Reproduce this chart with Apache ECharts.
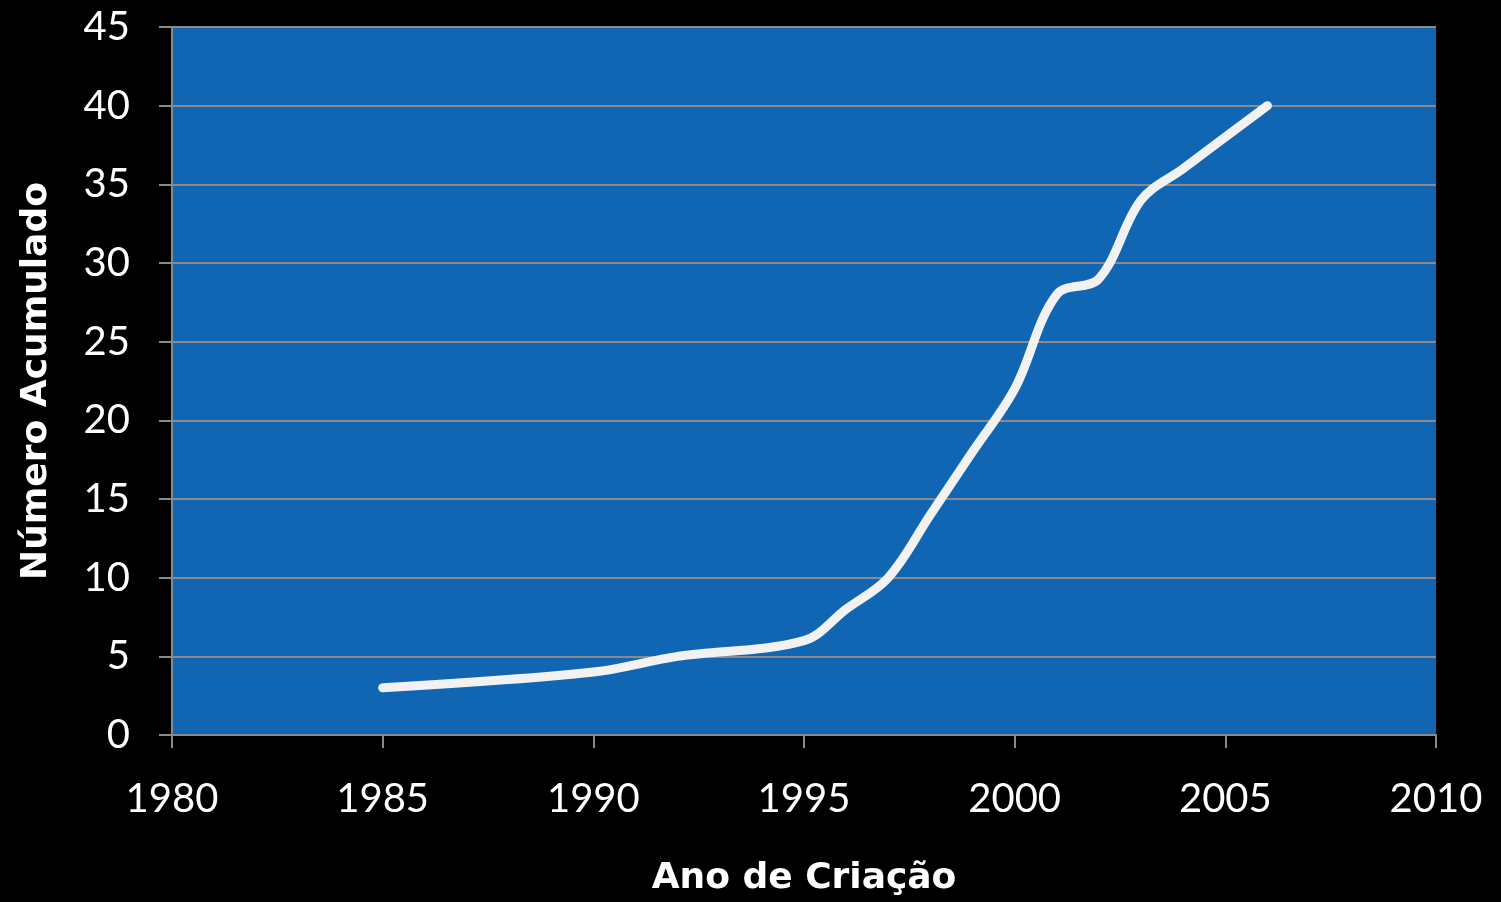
<!DOCTYPE html>
<html>
<head>
<meta charset="utf-8">
<script src="https://cdn.jsdelivr.net/npm/echarts@6/dist/echarts.min.js"></script>
<style>
  html, body { margin: 0; padding: 0; background: #000; }
  #dom { width: 1501px; height: 902px; }
</style>
</head>
<body>
<div id="dom"></div>
<script>
// anos de criação e número acumulado
var anos = [1985, 1990, 1992, 1995, 1996, 1997, 1998, 1999, 2000, 2001, 2002, 2003, 2004, 2006];
var acumulado = [3, 4, 5, 6, 8, 10, 14, 18, 22, 28, 29, 34, 36, 40];

var myChart = echarts.init(document.getElementById('dom'));

var pontos = [];
for (var i = 0; i < anos.length; i++) {
  pontos.push([anos[i], acumulado[i]]);
}

var cinza = '#8a8a8a';

var option = {
  backgroundColor: '#000',
  animation: false,
  grid: {
    left: 172,
    right: 65,
    top: 27,
    bottom: 167,
    show: true,
    backgroundColor: '#1166b3',
    borderWidth: 0,
    containLabel: false,
    outerBoundsMode: 'none'
  },
  xAxis: {
    type: 'value',
    min: 1980,
    max: 2010,
    interval: 5,
    name: 'Ano de Criação',
    nameLocation: 'middle',
    nameGap: 126,
    nameTextStyle: {
      color: '#fff',
      fontFamily: 'DejaVu Sans',
      fontWeight: 'bold',
      fontSize: 36
    },
    axisLine: { show: true, lineStyle: { color: cinza, width: 2 } },
    axisTick: { show: true, length: 13, lineStyle: { color: cinza, width: 2 } },
    splitLine: { show: false },
    axisLabel: {
      color: '#fff',
      fontFamily: 'Lato',
      fontSize: 40,
      margin: 44,
      formatter: function (v) { return String(v); }
    }
  },
  yAxis: {
    type: 'value',
    min: 0,
    max: 45,
    interval: 5,
    name: 'Número Acumulado',
    nameLocation: 'middle',
    nameGap: 117,
    nameRotate: 90,
    nameTextStyle: {
      color: '#fff',
      fontFamily: 'DejaVu Sans',
      fontWeight: 'bold',
      fontSize: 36
    },
    axisLine: { show: true, lineStyle: { color: cinza, width: 2 } },
    axisTick: { show: true, length: 13, lineStyle: { color: cinza, width: 2 } },
    splitLine: { show: true, lineStyle: { color: cinza, width: 2 } },
    axisLabel: {
      color: '#fff',
      fontFamily: 'Lato',
      fontSize: 40,
      margin: 42
    }
  },
  series: [{
    type: 'line',
    data: pontos,
    smooth: 0.35,
    symbol: 'none',
    lineStyle: {
      color: '#f2f2f2',
      width: 9,
      cap: 'round',
      join: 'round'
    }
  }]
};
myChart.setOption(option);
</script>
</body>
</html>
